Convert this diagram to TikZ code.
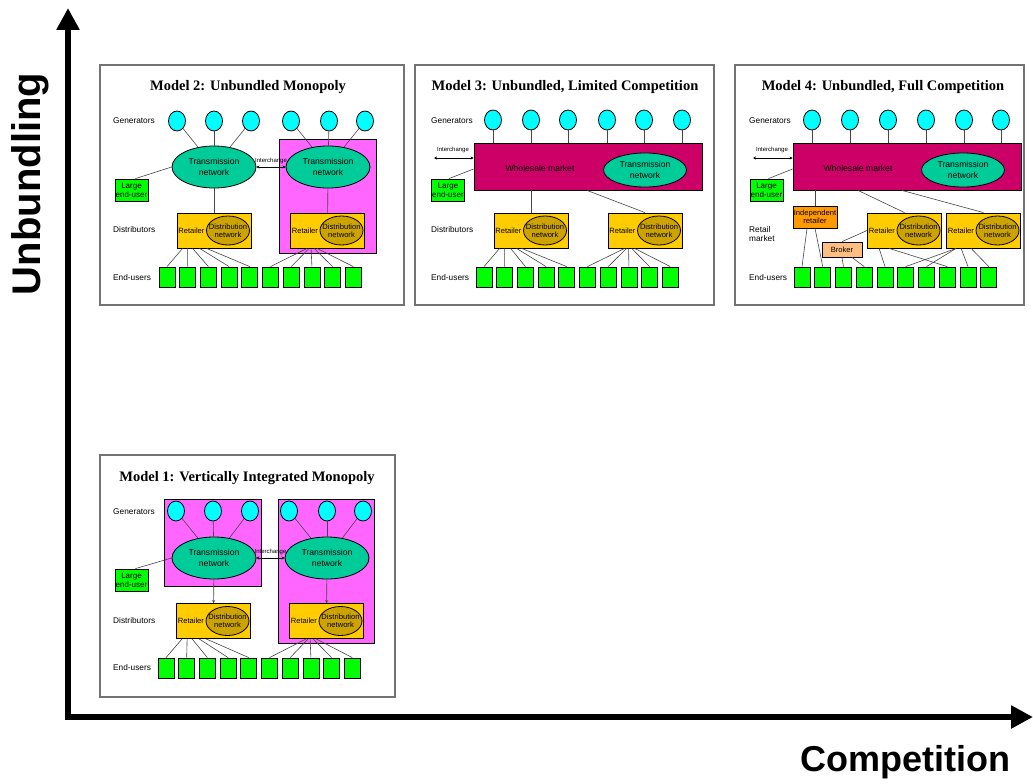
\documentclass[tikz,border=0pt]{standalone}
\usepackage{fontspec}
\setmainfont{Liberation Sans}
\newfontfamily\titlefont{Liberation Serif}
\usetikzlibrary{shapes.geometric, arrows.meta, positioning}

\definecolor{genblue}{RGB}{0,255,255}
\definecolor{transgreen}{RGB}{0,204,153}
\definecolor{pinkbox}{RGB}{255,102,255}
\definecolor{wholesale}{RGB}{204,0,102}
\definecolor{retyellow}{RGB}{255,204,0}
\definecolor{distgold}{RGB}{204,163,0}
\definecolor{usergreen}{RGB}{0,255,0}
\definecolor{indorange}{RGB}{255,153,0}
\definecolor{brokerpeach}{RGB}{255,190,130}
\definecolor{linkgray}{RGB}{70,70,70}

\newcommand{\labelfont}{\fontsize{8.3}{9}\selectfont}
\newcommand{\boxfont}{\fontsize{7.6}{8.4}\selectfont}
\newcommand{\tinyfont}{\fontsize{6}{6.5}\selectfont}

\tikzset{
  panel/.style={draw=black!55, line width=1.6pt, fill=white},
  title/.style={font=\titlefont\bfseries\fontsize{14.5}{16}\selectfont},
  rowlabel/.style={anchor=west, font=\labelfont, align=left, inner sep=0pt},
  gen/.style={ellipse, draw, line width=0.8pt, fill=genblue, minimum width=17pt, minimum height=20pt, inner sep=0pt},
  trans/.style={ellipse, draw, line width=0.8pt, fill=transgreen, minimum width=84pt, minimum height=42pt, inner sep=0pt, align=center, font=\fontsize{8.6}{10.5}\selectfont},
  market/.style={draw, line width=0.8pt, fill=wholesale, minimum width=228pt, minimum height=47pt, inner sep=0pt},
  biguser/.style={draw, line width=0.8pt, fill=usergreen, minimum width=33pt, minimum height=22pt, inner sep=0pt, align=center, font=\fontsize{8}{8.6}\selectfont},
  retail/.style={draw, line width=0.8pt, fill=retyellow, minimum width=74pt, minimum height=35pt, inner sep=0pt},
  rettext/.style={anchor=west, font=\boxfont, inner sep=0pt},
  dist/.style={ellipse, draw, line width=0.8pt, fill=distgold, minimum width=43pt, minimum height=29pt, inner xsep=-5pt, inner ysep=0pt, align=center, font=\boxfont},
  user/.style={draw, line width=0.8pt, fill=usergreen, minimum width=16pt, minimum height=20pt, inner sep=0pt},
  link/.style={draw=linkgray, line width=0.6pt},
  feed/.style={link, -{Stealth[length=3pt,width=3pt]}},
  interchange/.style={line width=0.9pt, {Stealth[length=3pt,width=3pt]}-{Stealth[length=3pt,width=3pt]}},
  axis/.style={line width=6pt, -{Triangle[length=22pt,width=22pt]}},
}

\begin{document}
\begin{tikzpicture}[x=1pt, y=-1pt]
  \useasboundingbox (0,0) rectangle (1033,784);

  % Axes
  \draw[axis] (68,720) -- (68,8);
  \draw[axis] (65,717) -- (1033,717);
  \node[rotate=90, font=\bfseries\fontsize{40}{40}\selectfont] (ylab) at (30,184) {Unbundling};
  \node[font=\bfseries\fontsize{36}{36}\selectfont] (xlab) at (905,762) {Competition};

  % Panels
  \draw[panel] (100,65) rectangle (404,305);
  \draw[panel] (415,65) rectangle (714,305);
  \draw[panel] (735,65) rectangle (1024,305);
  \draw[panel] (100,455) rectangle (395,697);

  % ---------- Model 2 ----------
  \node[title] (tit2) at (248,87) {Model 2: Unbundled Monopoly};
  \node[rowlabel] (lg2) at (113,121) {Generators};
  \node[rowlabel] (ld2) at (113,230) {Distributors};
  \node[rowlabel] (le2) at (113,278) {End-users};
  \draw[line width=0.8pt, fill=pinkbox] (279,139) rectangle (376,253);
  \foreach \i/\x in {1/177,2/214,3/251,4/291,5/329,6/365}
    \node[gen] (g2-\i) at (\x,121) {};
  \node[trans] (t2a) at (214,167) {Transmission\\network};
  \node[trans] (t2b) at (328,167) {Transmission\\network};
  \foreach \i in {1,2,3} \draw[link] (g2-\i) -- (t2a);
  \foreach \i in {4,5,6} \draw[link] (g2-\i) -- (t2b);
  \draw[interchange] (t2a) -- (t2b) node[midway, above=3pt, font=\tinyfont, inner sep=0pt] (ic2) {Interchange};
  \node[biguser] (lu2) at (131.5,190) {Large\\end-user};
  \draw[link] (t2a.west) -- ([xshift=-13pt]lu2.north east);
  \node[retail] (r2a) at (214,230.5) {};
  \node[retail] (r2b) at (327.5,230.5) {};
  \foreach \r in {r2a,r2b} {
    \node[dist, anchor=east] (d-\r) at ([xshift=-1.5pt]\r.east) {Distribution\\network};
    \node[rettext] (rt-\r) at ([xshift=1.5pt]\r.west) {Retailer};
  }
  \draw[link] (t2a) -- (r2a);
  \draw[link] (t2b) -- (r2b);
  \foreach \i in {1,...,10}
    \node[user] (u2-\i) at ({167+(\i-1)*20.7},277) {};
  \foreach \i/\dx in {1/6,2/11,3/16,4/23,5/30}
    \draw[link] ([xshift=\dx pt]r2a.south west) -- (u2-\i.north);
  \foreach \i/\dx in {6/17,7/19,8/21,9/24,10/27}
    \draw[link] ([xshift=\dx pt]r2b.south west) -- (u2-\i.north);

  % ---------- Model 3 ----------
  \node[title] (tit3) at (565,87) {Model 3: Unbundled, Limited Competition};
  \node[rowlabel] (lg3) at (431,121) {Generators};
  \node[rowlabel] (ld3) at (431,230) {Distributors};
  \node[rowlabel] (le3) at (431,278) {End-users};
  \foreach \i/\x in {1/493,2/531,3/568,4/607,5/644,6/682}
    \node[gen] (g3-\i) at (\x,120) {};
  \node[market] (wm3) at (588,166.5) {};
  \foreach \i in {1,...,6} \draw[link] (g3-\i) -- (g3-\i |- wm3.north);
  \node[font=\fontsize{8.6}{9.5}\selectfont] (wt3) at (540,168) {Wholesale market};
  \node[trans, minimum width=83pt, minimum height=34pt] (t3) at (645,170) {Transmission\\network};
  \coordinate (ix3) at (434,158);
  \draw[interchange] (ix3) -- (ix3 -| wm3.west);
  \node[font=\tinyfont, inner sep=0pt] (ic3) at (453,150) {Interchange};
  \node[biguser] (lu3) at (448,190) {Large\\end-user};
  \draw[link] ([yshift=-2.5pt]wm3.west) -- ([xshift=-16pt]lu3.north east);
  \node[retail] (r3a) at (531,230.5) {};
  \node[retail] (r3b) at (645,230.5) {};
  \foreach \r in {r3a,r3b} {
    \node[dist, anchor=east] (d-\r) at ([xshift=-1.5pt]\r.east) {Distribution\\network};
    \node[rettext] (rt-\r) at ([xshift=1.5pt]\r.west) {Retailer};
  }
  \draw[link] (r3a.north |- wm3.south) -- (r3a.north);
  \draw[link] ([xshift=-1pt]wm3.south) -- (r3b.north);
  \foreach \i in {1,...,10}
    \node[user] (u3-\i) at ({484+(\i-1)*20.7},277) {};
  \foreach \i/\dx in {1/6,2/11,3/17,4/23,5/28}
    \draw[link] ([xshift=\dx pt]r3a.south west) -- (u3-\i.north);
  \foreach \i/\dx in {6/17,7/19,8/21,9/24,10/27}
    \draw[link] ([xshift=\dx pt]r3b.south west) -- (u3-\i.north);

  % ---------- Model 4 ----------
  \node[title] (tit4) at (883,87) {Model 4: Unbundled, Full Competition};
  \node[rowlabel] (lg4) at (749,121) {Generators};
  \node[rowlabel] (ld4) at (749,234) {Retail\\market};
  \node[rowlabel] (le4) at (749,278) {End-users};
  \foreach \i/\x in {1/812,2/850,3/888,4/926,5/964,6/1001}
    \node[gen] (g4-\i) at (\x,120) {};
  \node[market] (wm4) at (907,166.5) {};
  \foreach \i in {1,...,6} \draw[link] (g4-\i) -- (g4-\i |- wm4.north);
  \node[font=\fontsize{8.6}{9.5}\selectfont] (wt4) at (858,168) {Wholesale market};
  \node[trans, minimum width=83pt, minimum height=34pt] (t4) at (963,170) {Transmission\\network};
  \coordinate (ix4) at (753,158);
  \draw[interchange] (ix4) -- (ix4 -| wm4.west);
  \node[font=\tinyfont, inner sep=0pt] (ic4) at (772,150) {Interchange};
  \node[biguser] (lu4) at (766.5,190) {Large\\end-user};
  \draw[link] ([yshift=-2.5pt]wm4.west) -- ([xshift=-15pt]lu4.north east);
  \node[draw, line width=0.8pt, fill=indorange, minimum width=44pt, minimum height=22pt, inner sep=0pt, align=center, font=\boxfont] (ind4) at (815,217) {Independent\\retailer};
  \node[draw, line width=0.8pt, fill=brokerpeach, minimum width=40pt, minimum height=15pt, inner sep=0pt, font=\boxfont] (bk4) at (842,249.5) {Broker};
  \node[retail] (r4a) at (904.5,230.5) {};
  \node[retail] (r4b) at (983.5,230.5) {};
  \foreach \r in {r4a,r4b} {
    \node[dist, anchor=east] (d-\r) at ([xshift=-1.5pt]\r.east) {Distribution\\network};
    \node[rettext] (rt-\r) at ([xshift=1.5pt]\r.west) {Retailer};
  }
  \draw[link] (ind4.north |- wm4.south) -- (ind4.north);
  \draw[link] ([xshift=-49pt]wm4.south) -- (r4a.north);
  \draw[link] ([xshift=-5pt]wm4.south) -- (r4b.north);
  \draw[link] (bk4.north) -- (r4a.west);
  \foreach \i in {1,...,10}
    \node[user] (u4-\i) at ({802+(\i-1)*20.75},277) {};
  \draw[link] ([xshift=-8pt]ind4.south) -- (u4-1.north);
  \draw[link] (ind4.south) -- (u4-2.north);
  \draw[link] (bk4.south) -- (u4-3.north);
  \draw[link] ([xshift=10pt]bk4.south) -- (u4-4.north);
  \draw[link] ([xshift=12pt]r4a.south west) -- (u4-5.north);
  \draw[link] ([xshift=22pt]r4a.south west) -- (u4-8.north);
  \foreach \i/\dx in {6/10,7/10,9/15,10/25}
    \draw[link] ([xshift=\dx pt]r4b.south west) -- (u4-\i.north);

  % ---------- Model 1 ----------
  \node[title] (tit1) at (247,478) {Model 1: Vertically Integrated Monopoly};
  \node[rowlabel] (lg1) at (113,512) {Generators};
  \node[rowlabel] (ld1) at (113,621) {Distributors};
  \node[rowlabel] (le1) at (113,668) {End-users};
  \draw[line width=0.8pt, fill=pinkbox] (164,499) rectangle (261,586);
  \draw[line width=0.8pt, fill=pinkbox] (278,499) rectangle (374,643);
  \foreach \i/\x in {1/176,2/213,3/250,4/289,5/327,6/363}
    \node[gen] (g1-\i) at (\x,511) {};
  \node[trans] (t1a) at (214,558) {Transmission\\network};
  \node[trans] (t1b) at (327,558) {Transmission\\network};
  \foreach \i in {1,2,3} \draw[link] (g1-\i) -- (t1a);
  \foreach \i in {4,5,6} \draw[link] (g1-\i) -- (t1b);
  \draw[interchange] (t1a) -- (t1b) node[midway, above=3pt, font=\tinyfont, inner sep=0pt] (ic1) {Interchange};
  \node[biguser] (lu1) at (131.5,580) {Large\\end-user};
  \draw[link] (t1a.west) -- ([xshift=-13pt]lu1.north east);
  \node[retail] (r1a) at (213.5,621) {};
  \node[retail] (r1b) at (326.5,621) {};
  \foreach \r in {r1a,r1b} {
    \node[dist, anchor=east] (d-\r) at ([xshift=-1.5pt]\r.east) {Distribution\\network};
    \node[rettext] (rt-\r) at ([xshift=1.5pt]\r.west) {Retailer};
  }
  \draw[feed] (t1a) -- (r1a);
  \draw[feed] (t1b) -- (r1b);
  \foreach \i in {1,...,10}
    \node[user] (u1-\i) at ({166+(\i-1)*20.7},668) {};
  \foreach \i/\dx in {1/6,2/11,3/16,4/23,5/30}
    \draw[link] ([xshift=\dx pt]r1a.south west) -- (u1-\i.north);
  \foreach \i/\dx in {6/17,7/19,8/21,9/24,10/27}
    \draw[link] ([xshift=\dx pt]r1b.south west) -- (u1-\i.north);
\end{tikzpicture}
\end{document}
